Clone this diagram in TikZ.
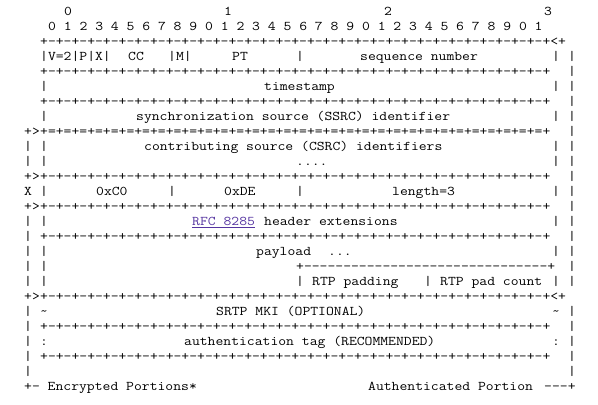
\documentclass[tikz,border=0pt]{standalone}
\usepackage{fontspec}
\usepackage{xcolor}
\newfontfamily\asciifont{Latin Modern Mono}[Ligatures=TeXOff, FakeStretch=1.143]
\definecolor{linkcol}{RGB}{85,52,160}
\tikzset{
  asc/.style={font=\asciifont\fontsize{13.333bp}{15bp}\selectfont\frenchspacing,
    inner sep=0pt, anchor=base west},
  link/.style={asc, text=linkcol}
}
\newcommand{\bitrow}{+-+-+-+-+-+-+-+-+-+-+-+-+-+-+-+-+-+-+-+-+-+-+-+-+-+-+-+-+-+-+-+-+}
\newcommand{\eqrow}{+=+=+=+=+=+=+=+=+=+=+=+=+=+=+=+=+=+=+=+=+=+=+=+=+=+=+=+=+=+=+=+=+}

\begin{document}
\begin{tikzpicture}[x=8bp, y=-15bp, shift={(-16bp,-15bp)}]
 \useasboundingbox (2,-1) rectangle (76.75,26);

 % bit numbering
 \node[asc] (d0) at (10,0) {0};
 \node[asc] (d1) at (30,0) {1};
 \node[asc] (d2) at (50,0) {2};
 \node[asc] (d3) at (70,0) {3};
 \node[asc] (bits) at (8,1) {0 1 2 3 4 5 6 7 8 9 0 1 2 3 4 5 6 7 8 9 0 1 2 3 4 5 6 7 8 9 0 1};

 % fixed header
 \node[asc] (b2) at (7,2) {\bitrow<+};

 \node[asc] (vpx) at (7,3) {|V=2|P|X|};
 \node[asc] (cc) at (18,3) {CC};
 \node[asc] (m) at (23,3) {|M|};
 \node[asc] (pt) at (31,3) {PT};
 \node[asc] (s3) at (39,3) {|};
 \node[asc] (seq) at (47,3) {sequence number};
 \node[asc] (e3) at (71,3) {|};

 \node[asc] (b4) at (7,4) {\bitrow};

 \node[asc] (l5) at (7,5) {|};
 \node[asc] (ts) at (35,5) {timestamp};
 \node[asc] (e5) at (71,5) {|};

 \node[asc] (b6) at (7,6) {\bitrow};

 \node[asc] (l7) at (7,7) {|};
 \node[asc] (ssrc) at (19,7) {synchronization source (SSRC) identifier};
 \node[asc] (e7) at (71,7) {|};

 % csrc and extension
 \node[asc] (a8) at (5,8) {+>};
 \node[asc] (b8) at (7,8) {\eqrow};

 \node[asc] (o9) at (5,9) {|};
 \node[asc] (l9) at (7,9) {|};
 \node[asc] (csrc) at (20,9) {contributing source (CSRC) identifiers};
 \node[asc] (e9) at (71,9) {|};

 \node[asc] (o10) at (5,10) {|};
 \node[asc] (l10) at (7,10) {|};
 \node[asc] (dots) at (39,10) {....};
 \node[asc] (e10) at (71,10) {|};

 \node[asc] (a11) at (5,11) {+>};
 \node[asc] (b11) at (7,11) {\bitrow};

 \node[asc] (x) at (5,12) {X};
 \node[asc] (l12) at (7,12) {|};
 \node[asc] (c0) at (14,12) {0xC0};
 \node[asc] (s12a) at (23,12) {|};
 \node[asc] (de) at (30,12) {0xDE};
 \node[asc] (s12b) at (39,12) {|};
 \node[asc] (len) at (51,12) {length=3};
 \node[asc] (e12) at (71,12) {|};

 \node[asc] (a13) at (5,13) {+>};
 \node[asc] (b13) at (7,13) {\bitrow};

 \node[asc] (o14) at (5,14) {|};
 \node[asc] (l14) at (7,14) {|};
 \node[link] (rfc) at (26,14) {RFC 8285};
 \draw[linkcol, line width=0.7bp] ([yshift=-2bp]rfc.base west) -- ([yshift=-2bp]rfc.base east);
 \node[asc] (hdr) at (35,14) {header extensions};
 \node[asc] (e14) at (71,14) {|};

 \node[asc] (o15) at (5,15) {|};
 \node[asc] (b15) at (7,15) {\bitrow};

 % payload and padding
 \node[asc] (o16) at (5,16) {|};
 \node[asc] (l16) at (7,16) {|};
 \node[asc] (pay) at (34,16) {payload};
 \node[asc] (more) at (43,16) {...};
 \node[asc] (e16) at (71,16) {|};

 \node[asc] (o17) at (5,17) {|};
 \node[asc] (l17) at (7,17) {|};
 \node[asc] (pad) at (39,17) {+-------------------------------+};

 \node[asc] (o18) at (5,18) {|};
 \node[asc] (l18) at (7,18) {|};
 \node[asc] (s18a) at (39,18) {|};
 \node[asc] (rtppad) at (41,18) {RTP padding};
 \node[asc] (s18b) at (55,18) {|};
 \node[asc] (padcnt) at (57,18) {RTP pad count};
 \node[asc] (e18) at (71,18) {|};

 % srtp trailer
 \node[asc] (a19) at (5,19) {+>};
 \node[asc] (b19) at (7,19) {\bitrow<+};

 \node[asc] (o20) at (5,20) {|};
 \node[asc] (l20) at (7,20) {\string~};
 \node[asc] (mki) at (29,20) {SRTP MKI (OPTIONAL)};
 \node[asc] (e20) at (71,20) {\string~};

 \node[asc] (o21) at (5,21) {|};
 \node[asc] (b21) at (7,21) {\bitrow};

 \node[asc] (o22) at (5,22) {|};
 \node[asc] (l22) at (7,22) {:};
 \node[asc] (tag) at (25,22) {authentication tag (RECOMMENDED)};
 \node[asc] (e22) at (71,22) {:};

 \node[asc] (o23) at (5,23) {|};
 \node[asc] (b23) at (7,23) {\bitrow};

 \node[asc] (o24) at (5,24) {|};

 \node[asc] (enc) at (5,25) {+- Encrypted Portions*};
 \node[asc] (auth) at (48,25) {Authenticated Portion};
 \node[asc] (ae) at (70,25) {---+};

 % right margin bar
 \node[asc] (r3) at (73,3) {|};
 \node[asc] (r4) at (73,4) {|};
 \node[asc] (r5) at (73,5) {|};
 \node[asc] (r6) at (73,6) {|};
 \node[asc] (r7) at (73,7) {|};
 \node[asc] (r8) at (73,8) {|};
 \node[asc] (r9) at (73,9) {|};
 \node[asc] (r10) at (73,10) {|};
 \node[asc] (r11) at (73,11) {|};
 \node[asc] (r12) at (73,12) {|};
 \node[asc] (r13) at (73,13) {|};
 \node[asc] (r14) at (73,14) {|};
 \node[asc] (r15) at (73,15) {|};
 \node[asc] (r16) at (73,16) {|};
 \node[asc] (r17) at (73,17) {|};
 \node[asc] (r18) at (73,18) {|};
 \node[asc] (r20) at (73,20) {|};
 \node[asc] (r21) at (73,21) {|};
 \node[asc] (r22) at (73,22) {|};
 \node[asc] (r23) at (73,23) {|};
 \node[asc] (r24) at (73,24) {|};
\end{tikzpicture}
\end{document}
